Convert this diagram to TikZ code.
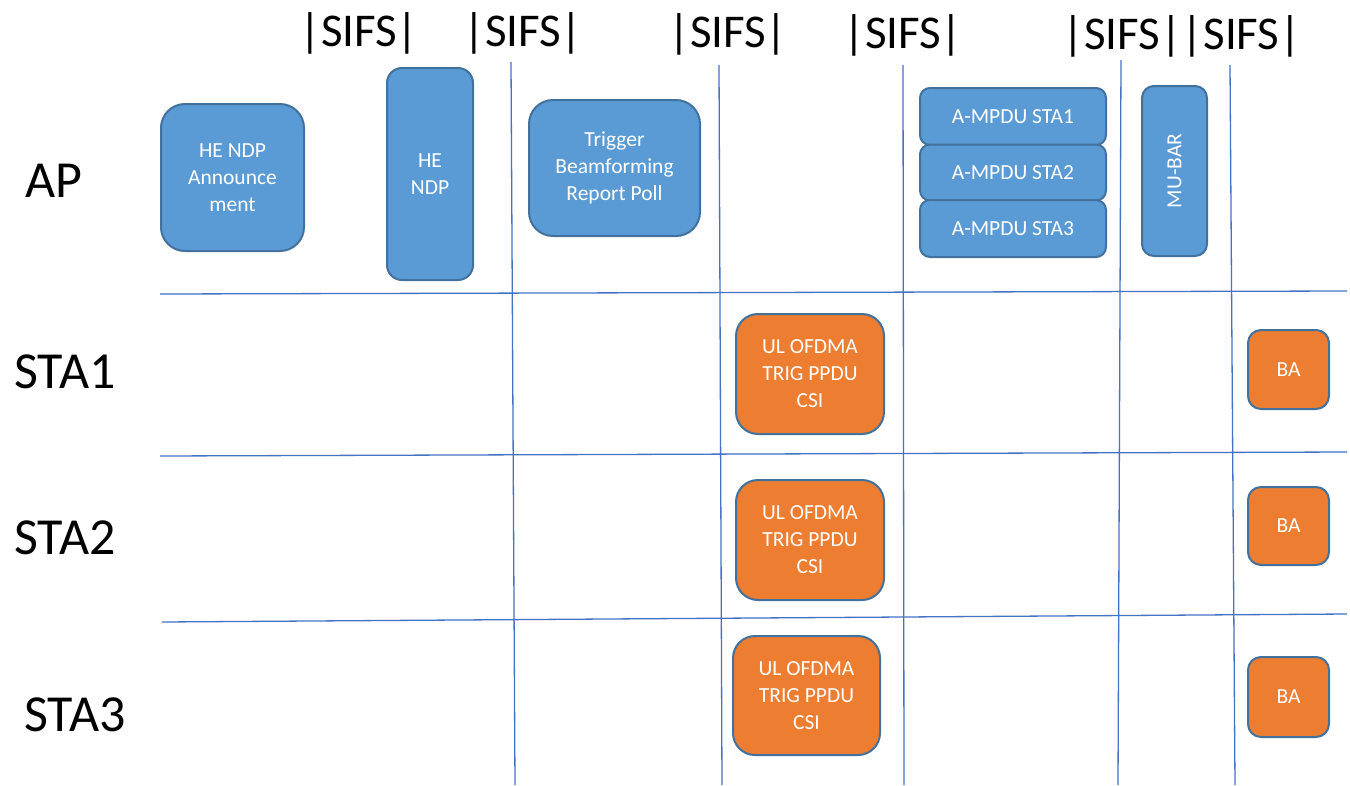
\documentclass[tikz,border=0pt]{standalone}
\usepackage{fontspec}
\setmainfont{Carlito}
\definecolor{boxblue}{HTML}{5B9BD5}
\definecolor{boxedge}{HTML}{41719C}
\definecolor{boxorange}{HTML}{ED7D31}
\definecolor{gridblue}{HTML}{4472C4}
\tikzset{
  gridline/.style={draw=gridblue, line width=1.3pt},
  pkt/.style={draw=boxedge, line width=2pt, text=white, inner sep=0pt, outer sep=0pt,
    align=center, font=\fontsize{21.5}{27}\selectfont},
  apbox/.style={pkt, fill=boxblue},
  stabox/.style={pkt, fill=boxorange},
  rowlabel/.style={anchor=base west, inner sep=0pt, font=\fontsize{52}{60}\selectfont},
  sifs/.style={anchor=base, inner sep=0pt, font=\fontsize{47}{52}\selectfont}
}
\begin{document}
\begin{tikzpicture}[x=1pt,y=-1pt]
\useasboundingbox[fill=white] (0,0) rectangle (1350,785);

% grid
\coordinate (h1a) at (160,294); \coordinate (h1b) at (1347,291);
\coordinate (h2a) at (160,456); \coordinate (h2b) at (1347,452);
\coordinate (h3a) at (162,622); \coordinate (h3b) at (1347,614);
\draw[gridline] (h1a) -- (h1b);
\draw[gridline] (h2a) -- (h2b);
\draw[gridline] (h3a) -- (h3b);
\coordinate (v1a) at (511,62);  \coordinate (v1b) at (515,785);
\coordinate (v2a) at (719,65);  \coordinate (v2b) at (722,785);
\coordinate (v3a) at (903,65);  \coordinate (v3b) at (904,785);
\coordinate (v4a) at (1121,60); \coordinate (v4b) at (1118,785);
\coordinate (v5a) at (1230,65); \coordinate (v5b) at (1235,785);
\draw[gridline] (v1a) -- (v1b);
\draw[gridline] (v2a) -- (v2b);
\draw[gridline] (v3a) -- (v3b);
\draw[gridline] (v4a) -- (v4b);
\draw[gridline] (v5a) -- (v5b);

% row labels
\node[rowlabel] (ap) at (25,197) {AP};
\node[rowlabel] (sta1) at (14,388) {STA1};
\node[rowlabel] (sta2) at (14,554) {STA2};
\node[rowlabel] (sta3) at (24,731) {STA3};

% SIFS labels
\node[sifs] (s1) at (359,46) {|SIFS|};
\node[sifs] (s2) at (523,46) {|SIFS|};
\node[sifs] (s3) at (728,47) {|SIFS|};
\node[sifs] (s4) at (903,48) {|SIFS|};
\node[sifs] (s5) at (1182,49) {|SIFS||SIFS|};

% AP frames
\node[apbox, minimum width=143pt, minimum height=147pt, rounded corners=24pt] (ann) at (232.5,177.5) {HE NDP\\Announce\\ment};
\node[apbox, minimum width=86pt, minimum height=212pt, rounded corners=15pt] (ndp) at (430,174) {HE\\NDP};
\node[apbox, minimum width=171pt, minimum height=136pt, rounded corners=24pt] (trig) at (614.5,168) {Trigger\\Beamforming\\Report Poll};
\node[apbox, minimum width=186pt, minimum height=57pt, rounded corners=10pt] (amp1) at (1013,116.5) {A-MPDU STA1};
\node[apbox, minimum width=186pt, minimum height=56pt, rounded corners=10pt] (amp2) at (1013,172.5) {A-MPDU STA2};
\node[apbox, minimum width=186pt, minimum height=57pt, rounded corners=10pt] (amp3) at (1013,228.5) {A-MPDU STA3};
\node[apbox, minimum width=65pt, minimum height=170pt, rounded corners=12pt] (mubar) at (1174.5,171) {\rotatebox{90}{MU-BAR}};

% STA frames
\node[stabox, minimum width=148pt, minimum height=120pt, rounded corners=22pt] (ul1) at (810,374) {UL OFDMA\\TRIG PPDU\\CSI};
\node[stabox, minimum width=148pt, minimum height=120pt, rounded corners=22pt] (ul2) at (810,540) {UL OFDMA\\TRIG PPDU\\CSI};
\node[stabox, minimum width=147pt, minimum height=119pt, rounded corners=22pt] (ul3) at (806.5,695.5) {UL OFDMA\\TRIG PPDU\\CSI};
\node[stabox, minimum width=81pt, minimum height=79pt, rounded corners=13pt] (ba1) at (1288.5,369.5) {BA};
\node[stabox, minimum width=81pt, minimum height=78pt, rounded corners=13pt] (ba2) at (1288.5,526) {BA};
\node[stabox, minimum width=81pt, minimum height=80pt, rounded corners=13pt] (ba3) at (1288.5,697) {BA};
\end{tikzpicture}
\end{document}
